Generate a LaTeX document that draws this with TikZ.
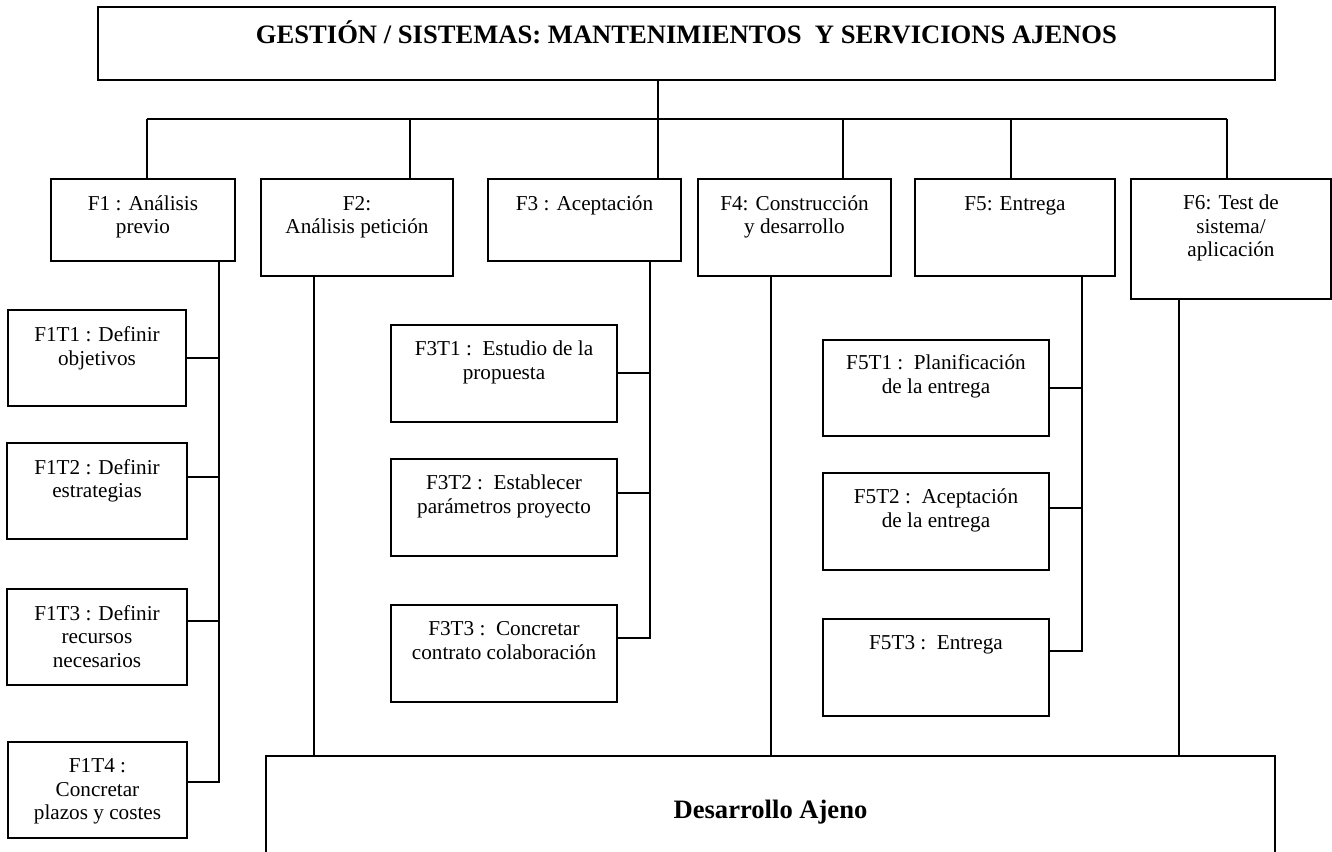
\documentclass[tikz,border=0pt]{standalone}
\usepackage{fontspec}
\setmainfont{Liberation Serif}
% fixed height for the first line of every box text
\newcommand\firstln{\rule{0pt}{16pt}}
\newcommand\firstlnbold{\rule{0pt}{24pt}}
\begin{document}
\begin{tikzpicture}[x=1pt,y=-1pt,
  box/.style={draw, line width=1.8pt, outer sep=0pt, inner sep=0pt, anchor=north west},
  txt/.style={anchor=north, align=center, inner sep=0pt, font=\fontsize{21.2}{23.5}\selectfont},
  head/.style={anchor=north, align=center, inner sep=0pt, font=\bfseries\fontsize{26.6}{30}\selectfont},
  link/.style={line width=1.8pt}]

\clip (0,0) rectangle (1332,851);

% title
\node[box, minimum width=1177, minimum height=73,
  label={[head, yshift=-12.6pt]north:{\firstlnbold GESTIÓN / SISTEMAS: MANTENIMIENTOS~~Y SERVICIONS AJENOS}}]
  (T) at (98,7) {};

% phases
\node[box, minimum width=184, minimum height=82,
  label={[txt, yshift=-15pt]north:{\firstln F1 : Análisis\\previo}}] (F1) at (51,179) {};
\node[box, minimum width=192, minimum height=97,
  label={[txt, yshift=-15pt]north:{\firstln F2:\\Análisis petición}}] (F2) at (261,179) {};
\node[box, minimum width=193, minimum height=82,
  label={[txt, yshift=-15pt]north:{\firstln F3 : Aceptación}}] (F3) at (488,179) {};
\node[box, minimum width=193, minimum height=97,
  label={[txt, yshift=-15pt]north:{\firstln F4: Construcción\\y desarrollo}}] (F4) at (698,179) {};
\node[box, minimum width=200, minimum height=97,
  label={[txt, yshift=-15pt]north:{\firstln F5: Entrega}}] (F5) at (915,179) {};
\node[box, minimum width=200, minimum height=120,
  label={[txt, yshift=-14.5pt]north:{\firstln F6: Test de\\sistema/\\aplicación}}] (F6) at (1131,179) {};

% tasks of F1
\node[box, minimum width=178, minimum height=96,
  label={[txt, yshift=-15.5pt]north:{\firstln F1T1 : Definir\\objetivos}}] (F1T1) at (8,310) {};
\node[box, minimum width=180, minimum height=96,
  label={[txt, yshift=-15pt]north:{\firstln F1T2 : Definir\\estrategias}}] (F1T2) at (7,443) {};
\node[box, minimum width=180, minimum height=96,
  label={[txt, yshift=-15pt]north:{\firstln F1T3 : Definir\\recursos\\necesarios}}] (F1T3) at (7,589) {};
\node[box, minimum width=179, minimum height=96,
  label={[txt, yshift=-14.5pt]north:{\firstln F1T4 :\\Concretar\\plazos y costes}}] (F1T4) at (8,742) {};

% tasks of F3
\node[box, minimum width=226, minimum height=97,
  label={[txt, yshift=-14.5pt]north:{\firstln F3T1 :~~Estudio de la\\propuesta}}] (F3T1) at (391,325) {};
\node[box, minimum width=226, minimum height=97,
  label={[txt, yshift=-14.5pt]north:{\firstln F3T2 :~~Establecer\\parámetros proyecto}}] (F3T2) at (391,459) {};
\node[box, minimum width=226, minimum height=97,
  label={[txt, yshift=-14.5pt]north:{\firstln F3T3 :~~Concretar\\contrato colaboración}}] (F3T3) at (391,605) {};

% tasks of F5
\node[box, minimum width=226, minimum height=96,
  label={[txt, yshift=-13.5pt]north:{\firstln F5T1 :~~Planificación\\de la entrega}}] (F5T1) at (823,340) {};
\node[box, minimum width=226, minimum height=97,
  label={[txt, yshift=-14.5pt]north:{\firstln F5T2 :~~Aceptación\\de la entrega}}] (F5T2) at (823,473) {};
\node[box, minimum width=226, minimum height=97,
  label={[txt, yshift=-14.5pt]north:{\firstln F5T3 :~~Entrega}}] (F5T3) at (823,619) {};

% external development block (runs past the lower edge)
\node[box, minimum width=1009, minimum height=130,
  label={[head, yshift=-38pt]north:{\firstlnbold Desarrollo Ajeno}}] (D) at (266,756) {};

% distribution bar under the title
\coordinate (hub) at (658,119);
\coordinate (j1) at (147,119);
\coordinate (j2) at (410,119);
\coordinate (j3) at (658,119);
\coordinate (j4) at (843,119);
\coordinate (j5) at (1011,119);
\coordinate (j6) at (1227,119);
\draw[link] (T.south -| hub) -- (hub);
\draw[link] (j1) -- (j6);
\draw[link] (j1) -- (j1 |- F1.north);
\draw[link] (j2) -- (j2 |- F2.north);
\draw[link] (j3) -- (j3 |- F3.north);
\draw[link] (j4) -- (j4 |- F4.north);
\draw[link] (j5) -- (j5 |- F5.north);
\draw[link] (j6) -- (j6 |- F6.north);

% F1 trunk and its tasks
\coordinate (k1) at (219,0);
\coordinate (e11) at (F1T1.east);
\coordinate (e12) at ([yshift=14pt]F1T2.east);
\coordinate (e13) at ([yshift=16pt]F1T3.east);
\coordinate (e14) at ([yshift=8pt]F1T4.east);
\draw[link] (k1 |- F1.south) -- (k1 |- e14) -- (e14);
\draw[link] (e11) -- (e11 -| k1);
\draw[link] (e12) -- (e12 -| k1);
\draw[link] (e13) -- (e13 -| k1);

% F3 trunk and its tasks
\coordinate (k3) at (650,0);
\coordinate (e31) at ([yshift=0.5pt]F3T1.east);
\coordinate (e32) at ([yshift=14.5pt]F3T2.east);
\coordinate (e33) at ([yshift=15.5pt]F3T3.east);
\draw[link] (k3 |- F3.south) -- (k3 |- e33) -- (e33);
\draw[link] (e31) -- (e31 -| k3);
\draw[link] (e32) -- (e32 -| k3);

% F5 trunk and its tasks
\coordinate (k5) at (1082,0);
\coordinate (e51) at (F5T1.east);
\coordinate (e52) at ([yshift=13.5pt]F5T2.east);
\coordinate (e53) at ([yshift=16.5pt]F5T3.east);
\draw[link] (k5 |- F5.south) -- (k5 |- e53) -- (e53);
\draw[link] (e51) -- (e51 -| k5);
\draw[link] (e52) -- (e52 -| k5);

% phases feeding the external development block
\coordinate (d2) at (314,0);
\coordinate (d4) at (771,0);
\coordinate (d6) at (1179,0);
\draw[link] (d2 |- F2.south) -- (d2 |- D.north);
\draw[link] (d4 |- F4.south) -- (d4 |- D.north);
\draw[link] (d6 |- F6.south) -- (d6 |- D.north);

\end{tikzpicture}
\end{document}
